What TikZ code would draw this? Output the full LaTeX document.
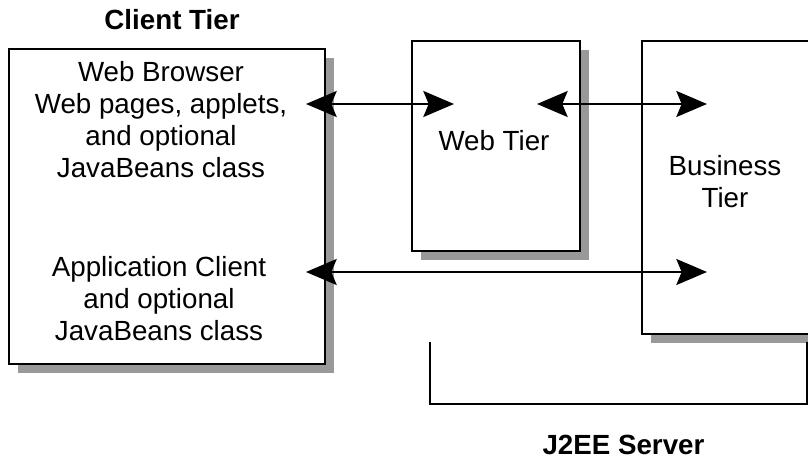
\documentclass[tikz,border=0pt]{standalone}
\usepackage{fontspec}
\setmainfont{Liberation Sans}
\usetikzlibrary{arrows.meta,shadows}
\definecolor{shadowgray}{gray}{0.6}

\tikzset{
  tier/.style={draw,line width=2pt,fill=white,inner sep=0pt,
    drop shadow={shadow xshift=6.75pt,shadow yshift=-6.75pt,fill=shadowgray,opacity=1}},
  txt/.style={align=center,inner sep=0pt,font=\fontsize{20.8}{24}\selectfont},
  head/.style={txt,font=\fontsize{20.8}{24}\selectfont\bfseries},
  link/.style={<->,line width=1.5pt}
}

\begin{document}
\begin{tikzpicture}[x=0.75pt,y=-0.75pt,>={Stealth[length=23pt,width=19.5pt,inset=4pt]}]
      \clip (0,0) rectangle (808,459);
      % tiers
      \node[tier,minimum width=237pt,minimum height=236.25pt] (client) at (167,206.5) {};
      \node[tier,minimum width=126pt,minimum height=157.5pt] (web) at (496,146) {};
      \node[tier,minimum width=141pt,minimum height=219.75pt] (business) at (736,187.5) {};
      %\node[tier,minimum width=120pt,minimum height=219.75pt] (business) at (725,187.5) {};
      \node[head,anchor=base] (clienthead) at (172,30) {Client Tier};
      \node[head,anchor=base] (serverhead) at (623.5,455) {J2EE Server};
      \node[txt] (browser) at (161,120) {Web Browser\\Web pages, applets,\\and optional\\JavaBeans class};
      \node[txt] (appclient) at (159,299) {Application Client\\and optional\\JavaBeans class};
      \node[txt,anchor=base] (webtier) at (494,151) {Web Tier};
      \node[txt] (bustier) at (725,182) {Business\\Tier};
      % arrow ends
      \coordinate (browserR) at (306,104);
      \coordinate (webL) at (454,104);
      \coordinate (webR) at (537,104);
      \coordinate (busTop) at (707,104);
      \coordinate (appR) at (306,272);
      \coordinate (busLow) at (707,272);
      \draw[link] (browserR) -- (webL);
        \draw[link] (webR) -- (busTop);
      \draw[link] (appR) -- (busLow);
      % server bracket
      \coordinate (srvA) at (430,342);
      \coordinate (srvB) at (807,342);
      \draw[line width=1.5pt] (srvA) -- (srvA |- 0,404) -- (srvB |- 0,404) -- (srvB);
    \end{tikzpicture}
\end{document}
